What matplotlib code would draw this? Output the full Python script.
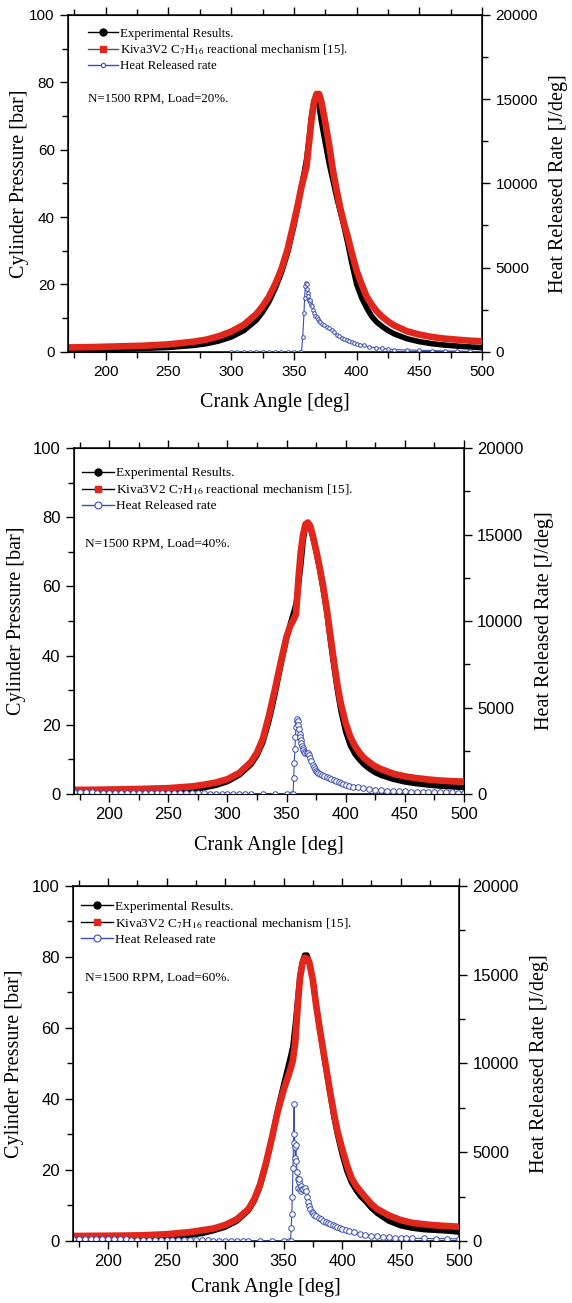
import matplotlib
matplotlib.use("Agg")
import matplotlib.pyplot as plt
from matplotlib.lines import Line2D
from matplotlib.ticker import MultipleLocator

plt.rcParams['mathtext.fontset'] = 'stix'

# crank angle grid used for the pressure traces [deg]
ang = [170, 190, 210, 230, 250, 270, 280, 290, 300, 310, 320, 325, 330, 335, 340,
       345, 350, 353, 356, 358, 360, 362, 364, 366, 368, 370, 372, 375, 378, 381,
       384, 387, 390, 393, 396, 400, 404, 408, 412, 416, 420, 425, 430, 440, 450,
       460, 470, 480, 490, 500]

# Load = 20 %
exp20 = [0.6, 0.7, 0.8, 1.0, 1.3, 1.9, 2.4, 3.2, 4.4, 6.3, 9.4, 11.8, 14.8, 18.8, 23.5,
         29.5, 37.5, 43, 49, 53, 57, 63, 70, 74.5, 76, 73, 68, 62, 56, 51,
         46, 41.5, 37, 32, 26.5, 20, 16, 13, 10.5, 8.8, 7.6, 6.3, 5.3, 3.9, 3.0,
         2.4, 2.0, 1.7, 1.45, 1.25]
kiva20 = [1.3, 1.4, 1.6, 1.8, 2.2, 3.0, 3.6, 4.6, 6.0, 8.0, 11.2, 13.5, 16.3, 20, 24.5,
          30.5, 38.5, 43.5, 49, 52, 55, 62, 69, 74, 76.5, 76.5, 74, 68, 61.5, 54,
          48, 42.5, 38, 34, 29.5, 24, 20, 16.3, 14, 12, 10.5, 9, 7.8, 6.1, 5.1,
          4.4, 3.9, 3.6, 3.3, 3.1]
hrr_ang20 = [300, 305, 310, 315, 320, 325, 330, 335, 340, 345, 350, 355, 356, 357, 358,
             358.5, 359, 359.5, 360, 360.5, 361, 361.5, 362, 362.5, 363, 363.5, 364, 365,
             366, 367, 368, 369, 370, 371, 372, 374, 376, 378, 380, 382, 384, 386, 388,
             390, 392, 394, 396, 398, 400, 403, 406, 410, 415, 420, 425, 430, 440, 450,
             460, 470, 480, 490, 500]
hrr20 = [0, 0, 0, 0, 0, 0, 0, 0, 0, 0, 0, 0, 0, 900, 2300,
         3200, 3900, 4100, 4050, 3700, 3500, 3300, 3100, 2950, 3050, 2800, 2700, 2500,
         2300, 2150, 2050, 1950, 1850, 1750, 1680, 1570, 1460, 1400, 1300, 1150, 1020, 920, 830,
         760, 700, 620, 560, 500, 460, 420, 380, 300, 240, 200, 160, 130, 110, 90,
         70, 55, 40, 25, 15]

# Load = 40 %
exp40 = [0.35, 0.4, 0.5, 0.65, 0.9, 1.4, 1.8, 2.5, 3.6, 5.5, 8.6, 11.2, 15, 21, 28.5,
         37, 45, 49, 52.5, 55, 60, 66, 73, 77.5, 78, 77, 74.5, 70, 65, 59,
         52.5, 44.5, 37, 30, 24, 18, 14, 11.5, 9.8, 8.4, 7.3, 6.2, 5.4, 4.3, 3.5,
         3.0, 2.6, 2.3, 2.1, 1.9]
kiva40 = [1.2, 1.25, 1.35, 1.5, 1.7, 2.2, 2.7, 3.3, 4.3, 6.1, 9.3, 12, 16, 22.5, 30,
          38, 45.5, 48.5, 50.5, 52, 62, 70, 75, 78, 78.5, 77.5, 75, 70.5, 65.5, 60,
          53.5, 46, 38.5, 31.5, 26, 20.5, 16.5, 13.8, 11.8, 10.3, 9.2, 8.0, 7.2, 5.9, 5.1,
          4.6, 4.2, 3.9, 3.7, 3.6]
hrr_ang40 = [170, 175, 180, 185, 190, 195, 200, 205, 210, 215, 220, 225, 230, 235, 240,
             245, 250, 255, 260, 265, 270, 275, 280, 285, 290, 295, 300, 305, 310, 315,
             320, 330, 340, 350, 355, 355.5, 356, 356.5, 357, 357.5, 358, 358.5, 359,
             359.5, 360, 360.5, 361, 361.5, 362, 362.5, 363, 363.5, 364, 365, 366, 367,
             368, 369, 370, 371, 372, 373, 374, 375, 376, 377, 378, 380, 382, 384, 386,
             388, 390, 392, 394, 396, 398, 400, 403, 406, 410, 415, 420, 425, 430, 435,
             440, 445, 450, 455, 460, 465, 470, 475, 480, 485, 490, 495, 500]
hrr40 = [90, 90, 90, 90, 85, 85, 85, 80, 80, 80, 75, 75, 70, 70, 65,
         60, 60, 55, 50, 50, 45, 40, 35, 30, 25, 20, 15, 10, 5, 0,
         0, 0, 0, 0, 0, 0, 900, 1800, 2600, 3300, 3900, 4250, 4350,
         4250, 4000, 3750, 3500, 3300, 3100, 2950, 2800, 2650, 2550, 2450, 2400, 2400,
         2350, 2250, 2100, 1900, 1700, 1550, 1420, 1320, 1250, 1200, 1160, 1100, 1050, 1000, 950,
         880, 800, 740, 680, 640, 580, 540, 480, 430, 380, 330, 290, 260, 230, 200,
         180, 160, 150, 140, 130, 120, 110, 100, 100, 90, 90, 85, 80]

# Load = 60 %
exp60 = [0.4, 0.45, 0.55, 0.7, 0.95, 1.6, 2.1, 2.9, 3.9, 5.6, 8.6, 11.3, 15.5, 21.5, 29,
         37, 44, 48, 52, 55, 61, 68, 74.5, 78.5, 80.5, 80.5, 78.5, 73.5, 66, 59.5,
         53, 47, 41, 35, 30, 24.5, 19.8, 16.5, 14.3, 12.5, 11.2, 9.3, 7.8, 5.6, 4.3,
         3.6, 3.2, 3.0, 2.8, 2.5]
kiva60 = [1.4, 1.45, 1.5, 1.6, 1.9, 2.5, 3.0, 3.5, 4.5, 6.1, 9.0, 11.8, 16, 22, 29,
          36.5, 42.5, 45.5, 48.5, 51, 56, 66, 74, 78, 79.8, 79.5, 78.5, 73.5, 66, 59.5,
          53.5, 47.5, 41.5, 36, 31, 26, 21.5, 17.8, 15.5, 13.9, 12.3, 10.4, 9.0, 7.2, 5.9,
          5.1, 4.7, 4.4, 4.2, 4.0]
hrr_ang60 = [170, 175, 180, 185, 190, 195, 200, 205, 210, 215, 220, 225, 230, 235, 240,
             245, 250, 255, 260, 265, 270, 275, 280, 285, 290, 295, 300, 305, 310, 315,
             320, 330, 340, 350, 355, 356, 356.5, 357, 357.5, 358, 358.5, 359, 359.3,
             359.6, 360, 360.5, 361, 361.5, 362, 362.5, 363, 363.5, 364, 364.5, 365, 366,
             367, 368, 369, 370, 371, 372, 373, 374, 375, 376, 378, 380, 382, 384, 386,
             388, 390, 392, 394, 396, 398, 400, 403, 406, 410, 415, 420, 425, 430, 435,
             440, 445, 450, 455, 460, 470, 480, 490, 500]
hrr60 = [100, 100, 100, 95, 95, 95, 90, 90, 85, 85, 80, 80, 75, 75, 70,
         65, 60, 60, 55, 50, 45, 40, 35, 30, 25, 20, 15, 10, 5, 0,
         0, 0, 0, 0, 0, 0, 750, 1500, 2500, 4100, 5500, 7700, 6000,
         5300, 4700, 5400, 4500, 3900, 3500, 3000, 3300, 3500, 2900, 3100, 2800, 2950,
         2900, 3000, 2800, 2500, 2200, 1950, 1800, 1650, 1550, 1480, 1380, 1300, 1220, 1150, 1080,
         1030, 960, 900, 850, 780, 720, 670, 600, 540, 480, 410, 360, 300, 260, 220,
         200, 180, 170, 160, 150, 140, 130, 130, 120]

loads = ['20%', '40%', '60%']

RED = '#e1261c'
BLUE = '#3a4db3'
SERIF = 'Liberation Serif'
SANS = 'Liberation Sans'

fig = plt.figure(figsize=(5.72, 13.03), dpi=100)

# [left, bottom, width, height] in figure fraction
boxes = [[0.119, 0.730, 0.724, 0.2586],
         [0.129, 0.3906, 0.682, 0.2655],
         [0.1276, 0.0476, 0.675, 0.2725]]

panels = [(exp20, kiva20, hrr_ang20, hrr20),
          (exp40, kiva40, hrr_ang40, hrr40),
          (exp60, kiva60, hrr_ang60, hrr60)]

leg_x = [0.049, 0.02, 0.022]
leg_y = [0.962, 0.945, 0.958]
note_y = [0.751, 0.725, 0.742]
ylpad = [0, 5, 6]
xlpad = [10, 10, 6]

for i, (exp, kiva, ha, hrr) in enumerate(panels):
    ax = fig.add_axes(boxes[i])
    small = (i == 0)
    tsize = 11 if small else 12
    lsize = 9.3 if small else 9.6

    ax.plot(ang, exp, color='black', lw=4.0, solid_capstyle='round', zorder=2)
    ax.plot(ang, kiva, color=RED, lw=4.8, solid_capstyle='butt', zorder=3)

    ax.set_xlim(170, 500)
    ax.set_ylim(0, 100)
    ax.xaxis.set_major_locator(MultipleLocator(50))
    ax.xaxis.set_minor_locator(MultipleLocator(25))
    ax.yaxis.set_major_locator(MultipleLocator(20))
    ax.yaxis.set_minor_locator(MultipleLocator(10))
    ax.tick_params(which='both', direction='out', width=1)
    ax.tick_params(which='major', length=6)
    ax.tick_params(which='minor', length=4)
    ax.tick_params(axis='x', which='both', top=True, labeltop=False)
    for lab in ax.get_xticklabels() + ax.get_yticklabels():
        lab.set_fontfamily(SANS)
        lab.set_fontsize(tsize)
    for sp in ax.spines.values():
        sp.set_linewidth(1.1)
    ax.set_xlabel('Crank Angle [deg]', family=SERIF, fontsize=14.5, labelpad=xlpad[i])
    ax.set_ylabel('Cylinder Pressure [bar]', family=SERIF, fontsize=14.5, labelpad=ylpad[i])

    ax2 = ax.twinx()
    ms = 2.6 if small else 4.0
    ax2.plot(ha, hrr, color=BLUE, lw=0.8, marker='o', ms=ms, mfc='white',
             mec=BLUE, mew=0.7)
    ax2.set_ylim(0, 20000)
    ax2.yaxis.set_major_locator(MultipleLocator(5000))
    ax2.yaxis.set_minor_locator(MultipleLocator(2500))
    ax2.tick_params(which='both', direction='out', width=1)
    ax2.tick_params(which='major', length=6)
    ax2.tick_params(which='minor', length=4)
    for lab in ax2.get_yticklabels():
        lab.set_fontfamily(SANS)
        lab.set_fontsize(tsize)
    ax2.set_ylabel('Heat Released Rate [J/deg]', family=SERIF, fontsize=14.5, labelpad=8)
    ax2.set_xlim(170, 500)

    kline = '#555555' if small else 'black'
    handles = [Line2D([], [], color='black', lw=1, marker='o', ms=5),
               Line2D([], [], color=kline, lw=1, marker='s', ms=5, mfc=RED, mec=RED),
               Line2D([], [], color=BLUE, lw=1, marker='o', ms=3 if small else 5,
                      mfc='white', mec=BLUE, mew=0.8)]
    labels = ['Experimental Results.',
              r'Kiva3V2 C$_7$H$_{16}$ reactional mechanism [15].',
              'Heat Released rate']
    ax2.legend(handles, labels, loc='upper left', bbox_to_anchor=(leg_x[i], leg_y[i]),
               frameon=False, borderpad=0, borderaxespad=0,
               handlelength=2.3 if small else 2.4,
               handletextpad=0.15, labelspacing=0.22,
               prop={'family': SERIF, 'size': lsize})
    ax2.text(0.03 if not small else 0.048, note_y[i], 'N=1500 RPM, Load=' + loads[i] + '.',
             transform=ax2.transAxes, family=SERIF, fontsize=lsize, va='center')

fig.savefig('out.png', dpi=100)
